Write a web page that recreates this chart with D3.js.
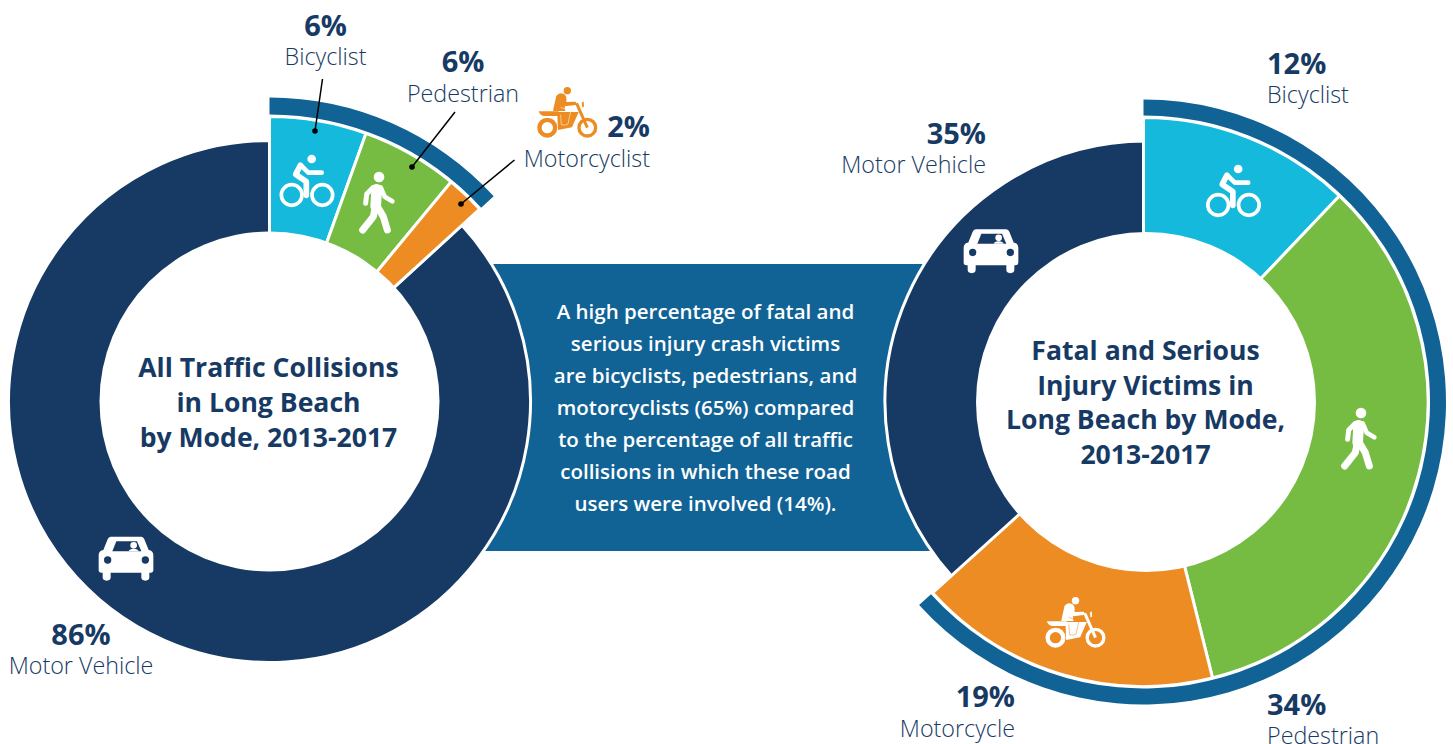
<!DOCTYPE html>
<html><head><meta charset="utf-8">
<script src="https://cdn.jsdelivr.net/npm/d3@7"></script>
<style>
html,body{margin:0;padding:0;background:#fff;overflow:hidden}
text{font-family:"Open Sans",sans-serif}
.pct{font-weight:700;font-size:29px;fill:#173a64}
.name{font-weight:300;font-size:23.3px;fill:#173a64}
.title{font-weight:700;font-size:26.6px;fill:#173a64;text-anchor:middle}
.body{font-weight:600;font-size:20.5px;fill:#fff;text-anchor:middle}
</style></head><body>
<svg id="c" width="1453" height="744"></svg>
<script>
// ---- data (slice shares as drawn, printed labels kept separately)
const modes = ["Bicyclist","Pedestrian","Motorcyclist","Motor Vehicle"];
const leftShares = [5.5, 5.5, 2.2, 86.8];
const rightShares = [12.1, 34.0, 17.2, 36.7];
const leftLabels = ["6%","6%","2%","86%"];
const rightLabels = ["12%","34%","19%","35%"];
const rightNames = ["Bicyclist","Pedestrian","Motorcycle","Motor Vehicle"];
const leftTitle = ["All Traffic Collisions","in Long Beach","by Mode, 2013-2017"];
const rightTitle = ["Fatal and Serious","Injury Victims in","Long Beach by Mode,","2013-2017"];
const bodyLines = ["A high percentage of fatal and","serious injury crash victims","are bicyclists, pedestrians, and","motorcyclists (65%) compared","to the percentage of all traffic","collisions in which these road","users were involved (14%)."];

// ---- styling and layout
const navy="#173a64", orange="#ec8c23";
const colors = d3.scaleOrdinal(modes, ["#15b9dc","#76bc43",orange,navy]);
const bandColor = "#116396";
const R = {inner:170, car:261, vul:285};
// each ring: apex of the coloured slices, centre of the hole + navy ring, outer band radii
const ringL = {x:269.5, y:401.5, hx:269.5, hy:401.5, vul:285, bandIn:287, bandOut:304};
const ringR = {x:1143.5, y:402, hx:1146, hy:402, vul:284.5, bandIn:286.5, bandOut:302.5};

const svg = d3.select("#c");

// connector panel
svg.append("rect").attr("x",400).attr("y",264).attr("width",640).attr("height",287).attr("fill",bandColor);

const pie = d3.pie().sort(null).value(d=>d);
const arc = d3.arc().innerRadius(R.inner-10);

function donut(c, shares){
  const arcs = pie(shares);
  const band = d3.arc().innerRadius(c.bandIn).outerRadius(c.bandOut);
  const slice = (g,d,i,r)=>g.append("path")
    .attr("d",arc.outerRadius(r)(d)).attr("fill",colors(modes[i]))
    .attr("stroke","#fff").attr("stroke-width",3);
  // navy underneath, centred on the hole; coloured slices above, on their own apex
  slice(svg.append("g").attr("transform",`translate(${c.hx},${c.hy})`),arcs[3],3,R.car);
  const g = svg.append("g").attr("transform",`translate(${c.x},${c.y})`);
  [0,1,2].forEach(i=>slice(g,arcs[i],i,c.vul));
  g.append("path").attr("d",band({startAngle:0,endAngle:arcs[2].endAngle})).attr("fill",bandColor);
  svg.append("circle").attr("cx",c.hx).attr("cy",c.hy).attr("r",R.inner).attr("fill","#fff");
}
donut(ringL,leftShares); donut(ringR,rightShares);

// ---- icons, drawn around their own centre in 1/3 px units
function bike(p,c){
  const g=p.append("g").attr("fill","none").attr("stroke",c).attr("stroke-linecap","round").attr("stroke-linejoin","round");
  g.append("circle").attr("cx",-46).attr("cy",45).attr("r",31).attr("stroke-width",11);
  g.append("circle").attr("cx",46).attr("cy",45).attr("r",31).attr("stroke-width",11);
  g.append("circle").attr("cx",14).attr("cy",-63).attr("r",13).attr("fill",c).attr("stroke","none");
  g.append("path").attr("d","M-20,-44L-34,-17L-2,5L-2,46").attr("stroke-width",17);
  g.append("path").attr("d","M-18,-44L4,-22L44,-22").attr("stroke-width",14);
}
function walker(p,c){
  const g=p.append("g").attr("fill","none").attr("stroke",c).attr("stroke-linecap","round").attr("stroke-linejoin","round");
  g.append("circle").attr("cx",3).attr("cy",-75).attr("r",16).attr("fill",c).attr("stroke","none");
  g.append("path").attr("d","M-4,-38L-7,14").attr("stroke-width",32);
  g.append("path").attr("d","M-14,-44L-34,-24L-37,4").attr("stroke-width",15);
  g.append("path").attr("d","M8,-44L20,-16L43,-2").attr("stroke-width",14);
  g.append("path").attr("d","M-8,14L-14,44L-46,84").attr("stroke-width",21);
  g.append("path").attr("d","M-2,14L16,44L28,84").attr("stroke-width",21);
}
function car(p,c,bg){
  const g=p.append("g");
  g.append("path").attr("fill",c).attr("d","M-46,-64L46,-64Q52,-64 55,-56L68,-24Q82,-22 82,-8L82,36Q82,44 74,44L70,44L70,58Q70,68 58,68Q46,68 46,58L46,44L-46,44L-46,58Q-46,68 -58,68Q-70,68 -70,58L-70,44L-74,44Q-82,44 -82,36L-82,-8Q-82,-22 -68,-24L-55,-56Q-52,-64 -46,-64Z");
  g.append("path").attr("fill",bg).attr("d","M-41,-20L-29,-50L33,-50L46,-20Z");
  g.append("circle").attr("cx",23).attr("cy",-38).attr("r",10).attr("fill",c);
  g.append("path").attr("fill",c).attr("d","M8,-20Q10,-28 23,-28Q36,-28 38,-20Z");
  g.append("circle").attr("cx",-55).attr("cy",6).attr("r",11).attr("fill",bg);
  g.append("circle").attr("cx",58).attr("cy",6).attr("r",11).attr("fill",bg);
}
function moto(p,c,bg){
  const g=p.append("g");
  g.append("circle").attr("cx",-60).attr("cy",47).attr("r",23.5).attr("fill","none").attr("stroke",c).attr("stroke-width",13);
  g.append("circle").attr("cx",60).attr("cy",47).attr("r",25).attr("fill","none").attr("stroke",c).attr("stroke-width",10);
  g.append("circle").attr("cx",0).attr("cy",-64).attr("r",11).attr("fill",c);
  g.append("path").attr("fill",c).attr("d","M-42,-8L-33,-48Q-25,-60 -10,-54Q0,-48 -3,-30L24,-31Q31,-26 25,-21L-8,-17L-6,-3L-42,-3Z");
  g.append("path").attr("fill",c).attr("d","M-86,-2L-26,-2L-26,12L-70,12Q-82,10 -86,-2Z");
  g.append("path").attr("fill",c).attr("d","M-30,0L34,0L14,46L-28,54Z");
  g.append("path").attr("fill",c).attr("d","M43,-28L49,-32L50,-16L45,-14Z");
  g.append("path").attr("fill","none").attr("stroke",c).attr("stroke-width",9).attr("d","M28,-26L60,47");
  g.append("path").attr("fill","none").attr("stroke",bg).attr("stroke-width",1.6).attr("d","M-20,-14L10,-2L2,36Q-6,42 -18,38L-20,8");
}
function place(fn,pos,...a){
  const g=svg.append("g").attr("transform",`translate(${pos[0]},${pos[1]}) scale(${1/3})`);
  fn(g,...a);
}
const iconPos = {
  lBike:[307,180], lWalk:[378,202], lCar:[126,558], lMoto:[567.3,112],
  rBike:[1233.5,190], rWalk:[1360,438], rMoto:[1075.5,622], rCar:[991,250.5]
};
place(bike,iconPos.lBike,"#fff");
place(walker,iconPos.lWalk,"#fff");
place(car,iconPos.lCar,"#fff",navy);
place(moto,iconPos.lMoto,orange,"#fff");
place(bike,iconPos.rBike,"#fff");
place(walker,iconPos.rWalk,"#fff");
place(moto,iconPos.rMoto,"#fff",orange);
place(car,iconPos.rCar,"#fff",navy);

// ---- leader lines
const leaders=[[322.5,79,315,131],[455,112,412,167],[514.5,160,461,204]];
leaders.forEach(l=>{
  svg.append("line").attr("x1",l[0]).attr("y1",l[1]).attr("x2",l[2]).attr("y2",l[3]).attr("stroke","#000").attr("stroke-width",1.5);
  svg.append("circle").attr("cx",l[2]).attr("cy",l[3]).attr("r",2.8).attr("fill","#000");
});

// ---- labels
function label(cls,t,x,y,anchor){svg.append("text").attr("class",cls).attr("x",x).attr("y",y).attr("text-anchor",anchor).text(t);}
label("pct",leftLabels[0],325.5,36,"middle");  label("name",modes[0],325.5,65,"middle");
label("pct",leftLabels[1],463,72,"middle");  label("name",modes[1],463,102,"middle");
label("pct",leftLabels[2],650,137,"end");    label("name",modes[2],650,167,"end");
label("pct",leftLabels[3],81,645,"middle");  label("name",modes[3],81,674,"middle");
label("pct",rightLabels[0],1267,74,"start"); label("name",rightNames[0],1267,103,"start");
label("pct",rightLabels[1],1267,715,"start");label("name",rightNames[1],1267,743.5,"start");
label("pct",rightLabels[2],1015,707,"end");  label("name",rightNames[2],1015,737,"end");
label("pct",rightLabels[3],986,144,"end");   label("name",rightNames[3],986,173,"end");

leftTitle.forEach((t,i)=>svg.append("text").attr("class","title").attr("x",268.5).attr("y",377+35*i).text(t));
rightTitle.forEach((t,i)=>svg.append("text").attr("class","title").attr("x",1145.5).attr("y",360+34.7*i).text(t));
bodyLines.forEach((t,i)=>svg.append("text").attr("class","body").attr("x",705.5).attr("y",319+32*i).text(t));
</script>
</body></html>
